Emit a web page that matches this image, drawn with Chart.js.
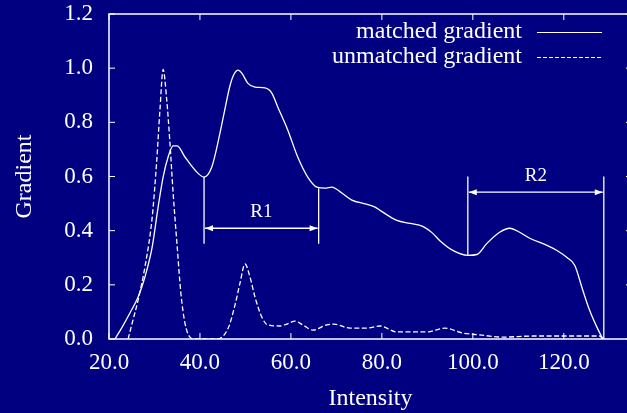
<!DOCTYPE html>
<html><head><meta charset="utf-8">
<script src="https://cdn.jsdelivr.net/npm/chart.js@4/dist/chart.umd.min.js"></script>
<style>
html,body{margin:0;padding:0;background:#000080;overflow:hidden;}
#wrap{width:634px;height:413px;}
</style></head><body><div id="wrap"><canvas id="c"></canvas></div>
<script>
const seriesLabels = ['matched gradient', 'unmatched gradient'];
const matchedX = [21.3,22.9,24.6,26.4,27.9,29.5,30.8,31.9,33.0,34.1,35.0,36.7,38.9,40.9,42.6,44.4,45.5,46.6,47.4,48.4,49.2,50.5,52.1,54.3,55.8,57.1,59.3,61.5,63.7,65.7,67.5,69.0,71.2,73.4,76.3,78.5,79.6,83.3,86.2,89.0,91.2,92.7,95.6,98.9,100.9,103.1,105.9,108.1,110.3,112.5,116.3,118.5,120.7,122.4,124.2,125.7,127.3,128.6];
const matchedY = [0,0.044,0.096,0.155,0.229,0.34,0.487,0.598,0.672,0.713,0.713,0.672,0.624,0.598,0.635,0.76,0.85,0.935,0.975,0.993,0.982,0.945,0.93,0.927,0.908,0.857,0.772,0.672,0.598,0.561,0.557,0.561,0.539,0.513,0.499,0.487,0.475,0.438,0.427,0.416,0.39,0.364,0.327,0.309,0.312,0.353,0.394,0.409,0.394,0.372,0.346,0.327,0.301,0.272,0.179,0.105,0.043,0];
const unmatchedX = [24.2,25.1,26.4,27.9,29.5,30.5,31.2,31.9,32.7,33.4,34.1,35.0,35.8,36.7,37.8,38.9,43.8,46.2,47.7,48.8,49.9,51.0,52.1,53.6,54.9,57.6,59.1,60.9,62.6,64.8,67.9,69.5,73.0,76.7,79.6,83.3,89.9,93.8,97.8,101.5,106.6,113.2,120.7,127.9,128.6];
const unmatchedY = [0,0.059,0.144,0.266,0.45,0.66,0.845,0.995,0.882,0.724,0.539,0.34,0.17,0.059,0.007,0,0,0.04,0.125,0.206,0.277,0.229,0.155,0.081,0.052,0.048,0.055,0.066,0.052,0.033,0.052,0.055,0.04,0.04,0.048,0.026,0.026,0.04,0.022,0.015,0.007,0.011,0.011,0.011,0];
const xTickValues = [20,40,60,80,100,120];
const yTickValues = [0,0.2,0.4,0.6,0.8,1.0,1.2];
const axisTitles = {x:'Intensity', y:'Gradient'};
// annotated regions
const regionLabels = ['R1','R2'];
const regionStart = [40.9, 98.9];
const regionEnd = [66.1, 128.8];
const regionStartTop = [0.598, 0.6];
const regionStartBottom = [0.352, 0.309];
const regionEndTop = [0.557, 0.6];
const regionEndBottom = [0.352, 0];
const regionArrowY = [0.409, 0.542];
const regionLabelY = [0.47, 0.6];

const FONT = '"Liberation Serif", "Times New Roman", serif';
const zip = (xs, ys) => xs.map((x, i) => ({x, y: ys[i]}));

const decor = {
  id: 'decor',
  beforeDraw(chart) {
    const ctx = chart.ctx;
    ctx.save(); ctx.fillStyle = '#000080';
    ctx.fillRect(0, 0, chart.width, chart.height); ctx.restore();
  },
  afterDatasetsDraw(chart) {
    const {ctx, chartArea: a, scales: {x, y}} = chart;
    const line = (x1, y1, x2, y2) => { ctx.beginPath(); ctx.moveTo(x1, y1); ctx.lineTo(x2, y2); ctx.stroke(); };
    ctx.save();
    ctx.strokeStyle = '#fff'; ctx.fillStyle = '#fff';
    ctx.lineWidth = 1.5;
    ctx.strokeRect(a.left, a.top, a.right - a.left, a.bottom - a.top);
    ctx.lineWidth = 1;
    y.ticks.forEach(t => { const py = y.getPixelForValue(t.value); line(a.left, py, a.left + 6, py); line(a.right, py, a.right - 6, py); });
    x.ticks.forEach(t => { const px = x.getPixelForValue(t.value); line(px, a.bottom, px, a.bottom - 6); line(px, a.top, px, a.top + 6); });
    // regions
    ctx.lineWidth = 1.3;
    regionLabels.forEach((lab, i) => {
      const xs = x.getPixelForValue(regionStart[i]);
      const xe = x.getPixelForValue(regionEnd[i]);
      line(xs, y.getPixelForValue(regionStartTop[i]), xs, y.getPixelForValue(regionStartBottom[i]));
      line(xe, y.getPixelForValue(regionEndTop[i]), xe, y.getPixelForValue(regionEndBottom[i]));
      const ay = y.getPixelForValue(regionArrowY[i]);
      line(xs + 1, ay, xe - 1, ay);
      const head = (tipX, dir) => {
        ctx.beginPath(); ctx.moveTo(tipX, ay);
        ctx.lineTo(tipX + dir * 8, ay - 3); ctx.lineTo(tipX + dir * 8, ay + 3);
        ctx.closePath(); ctx.fill();
      };
      head(xs + 1, 1); head(xe - 1, -1);
      ctx.font = '19px ' + FONT; ctx.textAlign = 'center'; ctx.textBaseline = 'middle';
      ctx.fillText(lab, (xs + xe) / 2, y.getPixelForValue(regionLabelY[i]));
    });
    // legend
    ctx.font = '24px ' + FONT; ctx.textAlign = 'right'; ctx.textBaseline = 'middle';
    chart.data.datasets.forEach((ds, i) => {
      const ly = 32 + i * 25;
      ctx.fillText(ds.label, 522, ly);
      ctx.lineWidth = 1.2;
      ctx.setLineDash(ds.borderDash && ds.borderDash.length ? [4, 2] : []);
      line(537, ly + 0.5, 602, ly + 0.5);
      ctx.setLineDash([]);
    });
    ctx.restore();
  }
};

new Chart(document.getElementById('c'), {
  type: 'line',
  data: {
    datasets: [
      {label: seriesLabels[0], data: zip(matchedX, matchedY), borderColor: '#fff', borderWidth: 1.3, pointRadius: 0, cubicInterpolationMode: 'monotone', fill: false},
      {label: seriesLabels[1], data: zip(unmatchedX, unmatchedY), borderColor: '#fff', borderWidth: 1.3, borderDash: [5, 2.5], pointRadius: 0, cubicInterpolationMode: 'monotone', fill: false}
    ]
  },
  options: {
    responsive: true, maintainAspectRatio: false, animation: false,
    layout: {padding: {top: 14, right: 2, left: 0, bottom: 0}},
    plugins: {legend: {display: false}, tooltip: {enabled: false}},
    scales: {
      x: {
        type: 'linear', min: 20, max: 135,
        afterBuildTicks: s => { s.ticks = xTickValues.map(v => ({value: v})); },
        afterFit: s => { s.height = 74; s.paddingLeft = 0; s.paddingRight = 0; },
        grid: {display: false, drawTicks: false}, border: {display: false},
        ticks: {color: '#fff', font: {family: FONT, size: 23}, padding: 10, maxRotation: 0, callback: v => Number(v).toFixed(1)},
        title: {display: true, text: axisTitles.x, color: '#fff', font: {family: FONT, size: 24, lineHeight: 1.15}, padding: {top: 0, bottom: 0}}
      },
      y: {
        type: 'linear', min: 0, max: 1.2,
        afterBuildTicks: s => { s.ticks = yTickValues.map(v => ({value: v})); },
        afterFit: s => { s.width = 109; s.paddingTop = 0; s.paddingBottom = 0; },
        grid: {display: false, drawTicks: false}, border: {display: false},
        ticks: {color: '#fff', font: {family: FONT, size: 23}, padding: 16, callback: v => Number(v).toFixed(1)},
        title: {display: true, text: axisTitles.y, color: '#fff', font: {family: FONT, size: 24, lineHeight: 1.15}, padding: {top: 11, bottom: 0}}
      }
    }
  },
  plugins: [decor]
});
</script></body></html>
